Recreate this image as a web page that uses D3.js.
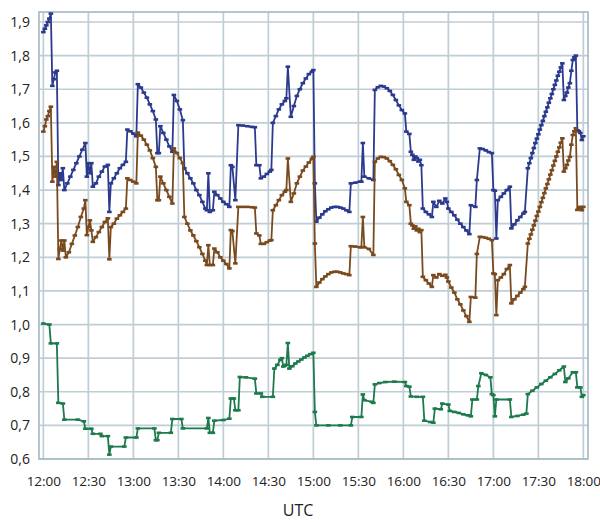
<!DOCTYPE html>
<html><head><meta charset="utf-8">
<script src="https://cdn.jsdelivr.net/npm/d3@7"></script>
<style>
html,body{margin:0;padding:0;background:#fff;}
text{font-family:"Open Sans","Noto Sans",sans-serif;fill:#222;}
</style></head>
<body><svg id="chart" width="600" height="522"></svg>
<script>
const yTickValues = [0.6,0.7,0.8,0.9,1.0,1.1,1.2,1.3,1.4,1.5,1.6,1.7,1.8,1.9];
const xTickLabels = ["12:00","12:30","13:00","13:30","14:00","14:30","15:00","15:30","16:00","16:30","17:00","17:30","18:00"];
const xAxisTitle = "UTC";

const blueSeries = [
["12:00",1.870],["12:01",1.880],["12:02",1.890],["12:03",1.900],["12:04",1.910],["12:05",1.925],
["12:06",1.710],["12:07",1.730],["12:08",1.750],["12:09",1.755],["12:10",1.415],["12:11",1.450],
["12:12",1.430],["12:13",1.465],["12:14",1.400],["12:16",1.420],["12:18",1.440],["12:20",1.460],
["12:22",1.480],["12:24",1.500],["12:26",1.520],["12:28",1.540],["12:29",1.440],["12:30",1.480],
["12:31",1.450],["12:32",1.480],["12:33",1.410],["12:35",1.420],["12:37",1.440],["12:39",1.455],
["12:41",1.470],["12:43",1.475],["12:44",1.335],["12:45",1.420],["12:47",1.435],["12:49",1.450],
["12:51",1.465],["12:53",1.475],["12:55",1.484],["12:56",1.580],["12:58",1.575],["13:00",1.568],
["13:02",1.560],["13:03",1.715],["13:05",1.705],["13:07",1.690],["13:09",1.675],["13:11",1.655],
["13:13",1.635],["13:15",1.610],["13:16",1.510],["13:17",1.510],["13:18",1.590],["13:20",1.570],
["13:22",1.550],["13:24",1.530],["13:26",1.514],["13:27",1.683],["13:29",1.665],["13:31",1.640],
["13:33",1.608],["13:34",1.465],["13:36",1.450],["13:38",1.435],["13:40",1.420],["13:42",1.400],
["13:44",1.385],["13:46",1.365],["13:48",1.345],["13:49",1.340],["13:50",1.450],["13:51",1.335],
["13:53",1.340],["13:54",1.395],["13:56",1.385],["13:58",1.375],["14:00",1.365],["14:02",1.358],
["14:04",1.350],["14:05",1.474],["14:06",1.469],["14:08",1.370],["14:10",1.593],["14:13",1.592],
["14:16",1.590],["14:19",1.588],["14:21",1.587],["14:22",1.474],["14:24",1.474],["14:25",1.435],
["14:27",1.440],["14:29",1.448],["14:31",1.455],["14:32",1.460],["14:33",1.600],["14:35",1.620],
["14:37",1.640],["14:39",1.655],["14:41",1.665],["14:42",1.673],["14:43",1.767],["14:45",1.618],
["14:47",1.650],["14:49",1.680],["14:51",1.700],["14:53",1.718],["14:55",1.732],["14:57",1.745],
["14:59",1.752],["15:00",1.757],["15:01",1.420],["15:02",1.306],["15:04",1.318],["15:06",1.328],
["15:08",1.337],["15:10",1.343],["15:12",1.348],["15:14",1.350],["15:16",1.350],["15:18",1.348],
["15:20",1.345],["15:22",1.340],["15:24",1.335],["15:25",1.420],["15:28",1.422],["15:31",1.425],
["15:32",1.425],["15:33",1.540],["15:34",1.440],["15:37",1.435],["15:40",1.430],["15:41",1.698],
["15:43",1.706],["15:45",1.710],["15:47",1.708],["15:49",1.703],["15:51",1.695],["15:53",1.683],
["15:55",1.668],["15:57",1.652],["15:59",1.638],["16:01",1.628],["16:02",1.574],["16:04",1.567],
["16:05",1.514],["16:06",1.505],["16:07",1.490],["16:08",1.500],["16:09",1.495],["16:10",1.485],
["16:11",1.490],["16:12",1.474],["16:13",1.345],["16:15",1.335],["16:17",1.328],["16:19",1.320],
["16:20",1.365],["16:22",1.350],["16:24",1.368],["16:26",1.360],["16:28",1.375],["16:29",1.365],
["16:30",1.345],["16:32",1.335],["16:34",1.325],["16:36",1.312],["16:38",1.300],["16:40",1.290],
["16:42",1.280],["16:44",1.269],["16:45",1.355],["16:48",1.350],["16:49",1.430],["16:51",1.524],
["16:53",1.522],["16:55",1.518],["16:57",1.513],["16:59",1.510],["17:00",1.400],["17:01",1.398],
["17:02",1.256],["17:03",1.370],["17:05",1.380],["17:07",1.390],["17:09",1.400],["17:11",1.410],
["17:12",1.286],["17:14",1.298],["17:16",1.310],["17:18",1.320],["17:20",1.330],["17:21",1.335],
["17:23",1.465],["17:24",1.480],["17:25",1.495],["17:26",1.510],["17:27",1.525],["17:28",1.540],
["17:29",1.553],["17:30",1.566],["17:31",1.580],["17:32",1.593],["17:33",1.606],["17:34",1.620],
["17:35",1.633],["17:36",1.646],["17:37",1.660],["17:38",1.673],["17:39",1.686],["17:40",1.700],
["17:41",1.713],["17:42",1.726],["17:43",1.740],["17:44",1.752],["17:45",1.765],["17:46",1.777],
["17:47",1.668],["17:48",1.680],["17:49",1.690],["17:50",1.705],["17:51",1.718],["17:52",1.755],
["17:53",1.787],["17:54",1.795],["17:55",1.800],["17:56",1.578],["17:57",1.575],["17:58",1.570],
["17:59",1.549],["18:00",1.560]
];

const brownSeries = [
["12:00",1.574],["12:01",1.590],["12:02",1.610],["12:03",1.620],["12:04",1.635],["12:05",1.648],
["12:06",1.425],["12:07",1.469],["12:08",1.440],["12:09",1.484],["12:10",1.195],["12:11",1.225],
["12:12",1.250],["12:13",1.220],["12:14",1.250],["12:15",1.200],["12:17",1.215],["12:19",1.240],
["12:21",1.265],["12:23",1.290],["12:25",1.320],["12:27",1.345],["12:28",1.370],["12:29",1.266],
["12:30",1.290],["12:31",1.310],["12:32",1.280],["12:33",1.246],["12:35",1.260],["12:37",1.275],
["12:39",1.290],["12:41",1.305],["12:43",1.316],["12:44",1.194],["12:45",1.290],["12:47",1.300],
["12:49",1.315],["12:51",1.325],["12:53",1.335],["12:55",1.345],["12:56",1.435],["12:58",1.430],
["13:00",1.425],["13:02",1.420],["13:03",1.571],["13:05",1.562],["13:07",1.550],["13:09",1.535],
["13:11",1.518],["13:13",1.495],["13:15",1.469],["13:16",1.370],["13:17",1.370],["13:18",1.440],
["13:20",1.420],["13:22",1.400],["13:24",1.380],["13:26",1.360],["13:27",1.524],["13:29",1.510],
["13:31",1.495],["13:33",1.480],["13:34",1.320],["13:36",1.300],["13:38",1.280],["13:40",1.265],
["13:42",1.248],["13:44",1.230],["13:46",1.210],["13:48",1.190],["13:49",1.177],["13:50",1.236],
["13:51",1.177],["13:53",1.177],["13:54",1.226],["13:56",1.215],["13:58",1.200],["14:00",1.190],
["14:02",1.180],["14:04",1.167],["14:05",1.281],["14:06",1.278],["14:08",1.182],["14:10",1.350],
["14:13",1.350],["14:16",1.350],["14:19",1.349],["14:21",1.348],["14:22",1.271],["14:24",1.265],
["14:25",1.240],["14:27",1.240],["14:29",1.245],["14:31",1.250],["14:32",1.251],["14:33",1.340],
["14:35",1.355],["14:37",1.370],["14:39",1.385],["14:41",1.395],["14:42",1.400],["14:43",1.494],
["14:45",1.365],["14:47",1.390],["14:49",1.420],["14:51",1.440],["14:53",1.458],["14:55",1.470],
["14:57",1.482],["14:59",1.493],["15:00",1.499],["15:01",1.241],["15:02",1.112],["15:04",1.125],
["15:06",1.135],["15:08",1.143],["15:10",1.150],["15:12",1.155],["15:14",1.157],["15:16",1.157],
["15:18",1.155],["15:20",1.152],["15:22",1.150],["15:24",1.147],["15:25",1.233],["15:28",1.232],
["15:31",1.230],["15:32",1.230],["15:33",1.320],["15:34",1.230],["15:37",1.225],["15:40",1.207],
["15:41",1.484],["15:43",1.494],["15:45",1.499],["15:47",1.498],["15:49",1.494],["15:51",1.486],
["15:53",1.475],["15:55",1.462],["15:57",1.445],["15:59",1.430],["16:01",1.405],["16:02",1.365],
["16:04",1.355],["16:05",1.300],["16:06",1.295],["16:07",1.285],["16:08",1.292],["16:09",1.280],
["16:10",1.285],["16:11",1.275],["16:12",1.281],["16:13",1.142],["16:15",1.132],["16:17",1.122],
["16:19",1.112],["16:20",1.147],["16:22",1.140],["16:24",1.150],["16:26",1.145],["16:28",1.148],
["16:29",1.140],["16:30",1.128],["16:32",1.110],["16:34",1.095],["16:36",1.075],["16:38",1.060],
["16:40",1.042],["16:42",1.025],["16:44",1.008],["16:45",1.082],["16:48",1.080],["16:49",1.210],
["16:51",1.261],["16:53",1.260],["16:55",1.258],["16:57",1.255],["16:59",1.251],["17:00",1.152],
["17:01",1.150],["17:02",1.028],["17:03",1.132],["17:05",1.140],["17:07",1.150],["17:09",1.165],
["17:11",1.177],["17:12",1.063],["17:14",1.075],["17:16",1.085],["17:18",1.095],["17:20",1.105],
["17:21",1.112],["17:23",1.241],["17:24",1.255],["17:25",1.268],["17:26",1.282],["17:27",1.295],
["17:28",1.309],["17:29",1.323],["17:30",1.336],["17:31",1.350],["17:32",1.364],["17:33",1.377],
["17:34",1.391],["17:35",1.405],["17:36",1.418],["17:37",1.432],["17:38",1.446],["17:39",1.459],
["17:40",1.473],["17:41",1.487],["17:42",1.500],["17:43",1.514],["17:44",1.527],["17:45",1.541],
["17:46",1.554],["17:47",1.455],["17:48",1.465],["17:49",1.475],["17:50",1.488],["17:51",1.499],
["17:52",1.535],["17:53",1.564],["17:54",1.575],["17:55",1.584],["17:56",1.341],["17:57",1.345],
["17:58",1.350],["17:59",1.340],["18:00",1.350]
];

const greenSeries = [
["12:00",1.003],["12:04",1.000],["12:05",0.944],["12:09",0.944],["12:10",0.767],["12:13",0.765],
["12:14",0.717],["12:23",0.717],["12:27",0.712],["12:28",0.690],["12:32",0.690],["12:33",0.675],
["12:38",0.675],["12:39",0.668],["12:43",0.668],["12:44",0.613],["12:45",0.637],["12:54",0.637],
["12:55",0.664],["13:02",0.664],["13:03",0.691],["13:14",0.691],["13:15",0.656],["13:16",0.656],
["13:17",0.678],["13:25",0.678],["13:26",0.719],["13:32",0.719],["13:33",0.691],["13:49",0.691],
["13:50",0.722],["13:51",0.678],["13:53",0.678],["13:54",0.714],["14:00",0.716],["14:04",0.720],
["14:05",0.780],["14:07",0.780],["14:08",0.745],["14:10",0.745],["14:11",0.844],["14:15",0.843],
["14:21",0.839],["14:22",0.795],["14:25",0.795],["14:26",0.785],["14:33",0.785],["14:34",0.869],
["14:36",0.880],["14:38",0.895],["14:39",0.900],["14:40",0.875],["14:41",0.878],["14:42",0.880],
["14:43",0.945],["14:44",0.869],["14:46",0.876],["14:48",0.884],["14:50",0.890],["14:52",0.896],
["14:54",0.902],["14:56",0.907],["14:58",0.912],["15:00",0.916],["15:01",0.740],["15:02",0.700],
["15:10",0.700],["15:18",0.700],["15:25",0.700],["15:26",0.725],["15:32",0.725],["15:33",0.792],
["15:34",0.775],["15:39",0.770],["15:40",0.767],["15:41",0.822],["15:44",0.826],["15:48",0.829],
["15:54",0.830],["16:01",0.829],["16:02",0.817],["16:04",0.815],["16:05",0.786],["16:09",0.785],
["16:13",0.785],["16:14",0.714],["16:18",0.710],["16:20",0.708],["16:21",0.750],["16:25",0.748],
["16:26",0.765],["16:30",0.762],["16:31",0.743],["16:34",0.740],["16:37",0.737],["16:40",0.733],
["16:43",0.730],["16:45",0.727],["16:46",0.777],["16:49",0.777],["16:50",0.817],["16:52",0.855],
["16:55",0.850],["16:58",0.843],["16:59",0.793],["17:00",0.790],["17:01",0.727],["17:02",0.777],
["17:11",0.777],["17:12",0.725],["17:16",0.728],["17:20",0.732],["17:22",0.735],["17:23",0.793],
["17:26",0.803],["17:29",0.813],["17:32",0.823],["17:35",0.833],["17:38",0.843],["17:41",0.853],
["17:44",0.864],["17:47",0.875],["17:48",0.829],["17:50",0.840],["17:53",0.858],["17:55",0.858],
["17:56",0.813],["17:58",0.813],["17:59",0.785],["18:00",0.790]
];

const seriesList = [
  {data: blueSeries, color: "#2c3a8e"},
  {data: brownSeries, color: "#7a4a1f"},
  {data: greenSeries, color: "#1d7a4c"}
];

(function draw() {
const parseT = d3.timeParse("%H:%M");
const t0 = parseT("12:00"), t1 = parseT("18:00");
const minute = 60000;
const mLeft = 39, mRight = 588, mTop = 12, mBottom = 459;

const x = d3.scaleTime()
  .domain([new Date(+t0 - 2.9*minute), new Date(+t1 + 3.1*minute)])
  .range([mLeft, mRight]);
const y = d3.scaleLinear()
  .domain([0.6, 1.9 + 10/33.6*0.1])
  .range([mBottom, mTop]);

const svg = d3.select("#chart");
const gridColor = "#bfcdd5";
const xTicks = xTickLabels.map(parseT);

svg.append("g").selectAll("line").data(yTickValues).join("line")
  .attr("x1", mLeft).attr("x2", mRight)
  .attr("y1", d => y(d)).attr("y2", d => y(d))
  .attr("stroke", gridColor).attr("stroke-width", 1.7);
svg.append("g").selectAll("line").data(xTicks).join("line")
  .attr("x1", d => x(d)).attr("x2", d => x(d))
  .attr("y1", mTop).attr("y2", mBottom)
  .attr("stroke", gridColor).attr("stroke-width", 1.7);
svg.append("rect").attr("x", mLeft).attr("y", mTop)
  .attr("width", mRight-mLeft).attr("height", mBottom-mTop)
  .attr("fill", "none").attr("stroke", "#a9bcc6").attr("stroke-width", 1.7);

const loc = d3.formatLocale({decimal: ",", thousands: ".", grouping: [3], currency: ["", "€"]});
const yFmt = loc.format(".1f");
const yAxis = d3.axisLeft(y).tickValues(yTickValues).tickFormat(yFmt).tickSize(0).tickPadding(9);
const gy = svg.append("g").attr("transform", `translate(${mLeft},0)`).call(yAxis);
gy.select(".domain").remove();
gy.selectAll("text").attr("font-size", 14).attr("fill", "#222")
  .style("font-family", '"Open Sans","Noto Sans",sans-serif');

const xAxis = d3.axisBottom(x).tickValues(xTicks).tickFormat(d3.timeFormat("%H:%M")).tickSize(0).tickPadding(17);
const gx = svg.append("g").attr("transform", `translate(0,${mBottom})`).call(xAxis);
gx.select(".domain").remove();
gx.selectAll("text").attr("font-size", 13.5).attr("fill", "#222")
  .style("font-family", '"Open Sans","Noto Sans",sans-serif');

svg.append("text").attr("x", 298).attr("y", 516)
  .attr("text-anchor", "middle").attr("font-size", 16).text(xAxisTitle);

const line = d3.line().x(d => x(parseT(d[0]))).y(d => y(d[1]));
seriesList.forEach(s => {
  const g = svg.append("g");
  g.append("path").datum(s.data).attr("d", line)
    .attr("fill", "none").attr("stroke", s.color).attr("stroke-width", 1.8)
    .attr("stroke-linejoin", "round");
  g.selectAll("rect.m").data(s.data).join("rect").attr("class", "m")
    .attr("x", d => x(parseT(d[0])) - 2.3).attr("width", 4.6)
    .attr("y", d => y(d[1]) - 1.3).attr("height", 2.6)
    .attr("fill", s.color);
});
})();
</script></body></html>
